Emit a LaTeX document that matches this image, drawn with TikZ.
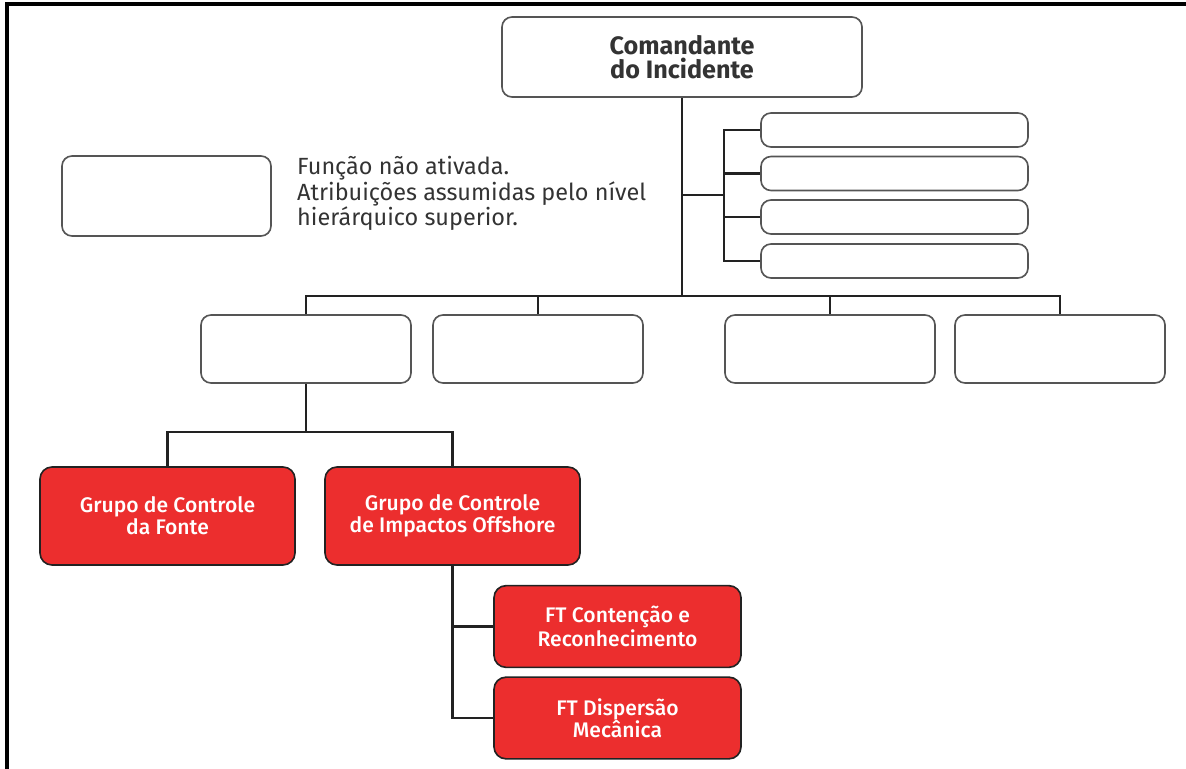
\documentclass[tikz,border=0pt]{standalone}
\usepackage{fontspec}
\setmainfont{Fira Sans}
\newfontfamily\medfont{Fira Sans Medium}
\usetikzlibrary{positioning}
\definecolor{alertred}{RGB}{236,46,46}
\definecolor{boxgray}{RGB}{85,85,85}
\definecolor{linedark}{RGB}{34,34,34}
\begin{document}
\begin{tikzpicture}[x=0.03cm, y=-0.03cm,
  blank/.style={draw=boxgray, line width=1.4pt, fill=white, rounded corners=0.3cm},
  active/.style={draw=linedark, line width=1.4pt, fill=alertred, rounded corners=0.36cm,
    text=white, align=center, font=\medfont\fontsize{18}{18.5}\selectfont},
  link/.style={draw=linedark, line width=2.4pt}]
  \useasboundingbox (0,0) rectangle (1186,769);

  % Frame
  \draw[line width=2.6pt, black] (7,769) -- (7,4) -- (1186,4);

  % Top level
  \node[blank, minimum width=10.8cm, minimum height=2.4cm, align=center,
    text=black!80, font=\bfseries\fontsize{21.5}{21}\selectfont] (cmd) at (682,57)
    {Comandante\\do Incidente};

  % Command staff
  \node[blank, minimum width=8.01cm, minimum height=1.02cm] (st1) at (894.5,130) {};
  \node[blank, minimum width=8.01cm, minimum height=1.02cm] (st2) at (894.5,173.5) {};
  \node[blank, minimum width=8.01cm, minimum height=1.02cm] (st3) at (894.5,217) {};
  \node[blank, minimum width=8.01cm, minimum height=1.02cm] (st4) at (894.5,261) {};

  % Legend
  \node[blank, minimum width=6.27cm, minimum height=2.4cm] (legbox) at (166.5,196) {};
  \node[anchor=base west, align=left, inner sep=0pt, text=black!80,
    font=\fontsize{20}{20.4}\selectfont] (legtext) at (297,226)
    {Função não ativada.\\Atribuições assumidas pelo nível\\hierárquico superior.};

  % Sections
  \node[blank, minimum width=6.3cm, minimum height=2.04cm] (sec1) at (306,349) {};
  \node[blank, minimum width=6.3cm, minimum height=2.04cm] (sec2) at (538,349) {};
  \node[blank, minimum width=6.3cm, minimum height=2.04cm] (sec3) at (830,349) {};
  \node[blank, minimum width=6.3cm, minimum height=2.04cm] (sec4) at (1060,349) {};

  % Activated groups
  \node[active, minimum width=7.65cm, minimum height=2.94cm] (grp1) at (167.5,516)
    {Grupo de Controle\\da Fonte};
  \node[active, minimum width=7.65cm, minimum height=2.94cm] (grp2) at (452.5,516)
    {Grupo de Controle\\de Impactos Offshore};

  % Task forces
  \node[active, minimum width=7.41cm, minimum height=2.45cm] (ft1) at (617.5,626.5)
    {FT Contenção e\\Reconhecimento};
  \node[active, minimum width=7.41cm, minimum height=2.45cm] (ft2) at (617.5,718)
    {FT Dispersão\\Mecânica};

  % Connectors
  \coordinate (bus) at (682,296);
  \coordinate (sbar) at (724,195);
  \coordinate (gbus) at (306,432);
  \draw[link] (cmd.south) -- (bus);
  \draw[link] (sec1.north) |- (bus) -| (sec4.north);
  \draw[link] (sec2.north) -- (sec2.north |- bus);
  \draw[link] (sec3.north) -- (sec3.north |- bus);
  \draw[link] (cmd.south |- sbar) -- (sbar);
  \draw[link] (st1.west) -| (sbar) |- (st4.west);
  \draw[link] (st2.west) -- (st2.west -| sbar);
  \draw[link] (st3.west) -- (st3.west -| sbar);
  \draw[link] (sec1.south) -- (gbus);
  \draw[link] (grp1.north) |- (gbus) -| (grp2.north);
  \draw[link] (grp2.south) |- (ft2.west);
  \draw[link] (ft1.west) -- (ft1.west -| grp2.south);
\end{tikzpicture}
\end{document}
